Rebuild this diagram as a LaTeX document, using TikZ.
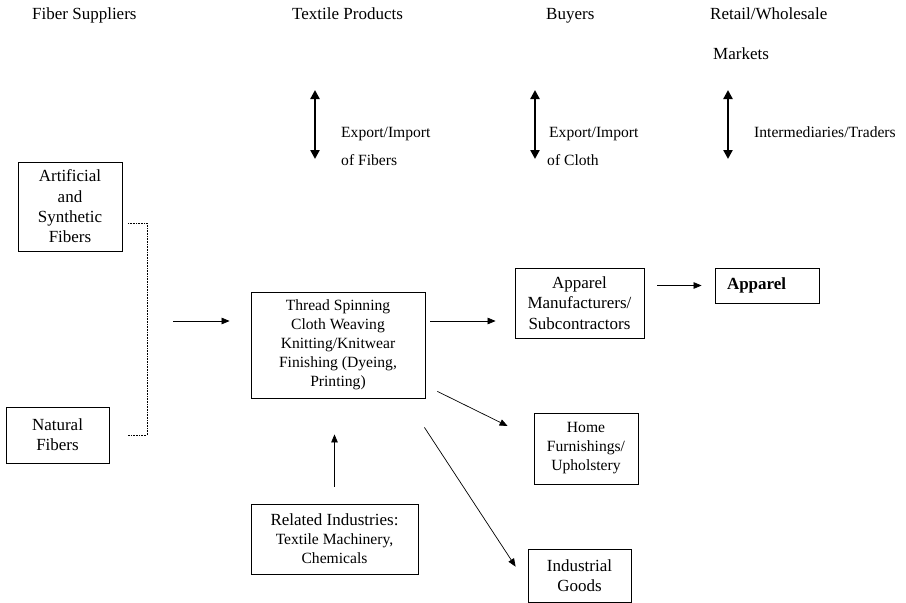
\documentclass[tikz,border=0pt]{standalone}
\usepackage{fontspec}
\setmainfont{Liberation Serif}
\usetikzlibrary{arrows.meta}
\tikzset{
  box/.style={draw,line width=0.8pt,align=center,inner sep=0pt},
  big/.style={font=\fontsize{17}{20.3}\selectfont},
  lbl/.style={anchor=base west,inner sep=0pt},
  flow/.style={line width=0.7pt,-{Triangle[length=8pt,width=6.5pt]}},
  trade/.style={line width=2.4pt,{Triangle[length=9pt,width=9pt]}-{Triangle[length=9pt,width=9pt]}}
}
\begin{document}
\begin{tikzpicture}[x=1pt,y=-1pt,font=\fontsize{15.6}{19}\selectfont]
\useasboundingbox (0,0) rectangle (906,603);
% headings
\node[big,lbl] (hfiber) at (32,19) {Fiber Suppliers};
\node[big,lbl] (htextile) at (292,19) {Textile Products};
\node[big,lbl] (hbuyers) at (546,19) {Buyers};
\node[big,lbl] (hretail) at (710,19) {Retail/Wholesale};
\node[big,lbl] (hmarkets) at (713,59) {Markets};
% trade between the stages
\foreach \x/\n in {315/fib,535/clo,728/ret}{
  \coordinate (\n top) at (\x,90);
  \coordinate (\n bot) at (\x,159);
  \draw[trade] (\n top) -- (\n bot);
}
\node[lbl] (fibtxa) at (341,137) {Export/Import};
\node[lbl] (fibtxb) at (341,165) {of Fibers};
\node[lbl] (clotxa) at (549,137) {Export/Import};
\node[lbl] (clotxb) at (547,165) {of Cloth};
\node[lbl] (rettx) at (754,137) {Intermediaries/Traders};
% boxes
\node[box,big,minimum width=104pt,minimum height=89pt] (artif) at (70,206.5) {Artificial\\and\\Synthetic\\Fibers};
\node[box,big,minimum width=103pt,minimum height=56pt] (natural) at (57.5,435) {Natural\\Fibers};
\node[box,minimum width=174pt,minimum height=106pt] (central) at (338,345) {Thread Spinning\\Cloth Weaving\\Knitting/Knitwear\\Finishing (Dyeing,\\Printing)};
\node[box,big,minimum width=129pt,minimum height=70pt] (appmfr) at (579.5,303) {Apparel\\Manufacturers/\\Subcontractors};
\node[box,big,align=left,text width=80pt,inner xsep=12pt,minimum height=35pt] (apparel) at (767,285.5) {\bfseries Apparel};
\node[box,minimum width=104pt,minimum height=71pt] (home) at (586,448.5) {Home\\Furnishings/\\Upholstery};
\node[box,big,minimum width=103pt,minimum height=53pt] (industrial) at (579.5,575.5) {Industrial\\Goods};
\node[box,minimum width=167pt,minimum height=70pt] (related) at (334.5,539) {{\fontsize{17}{20}\selectfont Related Industries:}\\Textile Machinery,\\Chemicals};
% connectors
\coordinate (brtop) at (128,223);
\coordinate (brbot) at (128,435);
\draw[densely dotted,line width=0.6pt] (brtop) -- ++(19,0) |- (brbot);
\coordinate (merge) at (173,321);
\draw[flow,shorten >=21pt] (merge) -- (merge -| central.west);
\draw[flow,shorten <=5pt,shorten >=19pt] (central.east |- merge) -- (appmfr.west |- merge);
\draw[flow,shorten <=13pt,shorten >=13pt] (appmfr.east |- apparel.west) -- (apparel.west);
\draw[flow] ([shift={(12,-7)}]central.south east) -- ([shift={(-26,-22.5)}]home.west);
\draw[flow] ([shift={(-1,29)}]central.south east) -- ([shift={(-12,18)}]industrial.north west);
\draw[flow,shorten <=17pt,shorten >=36pt] (related.north) -- (related.north |- central.south);
\end{tikzpicture}
\end{document}
